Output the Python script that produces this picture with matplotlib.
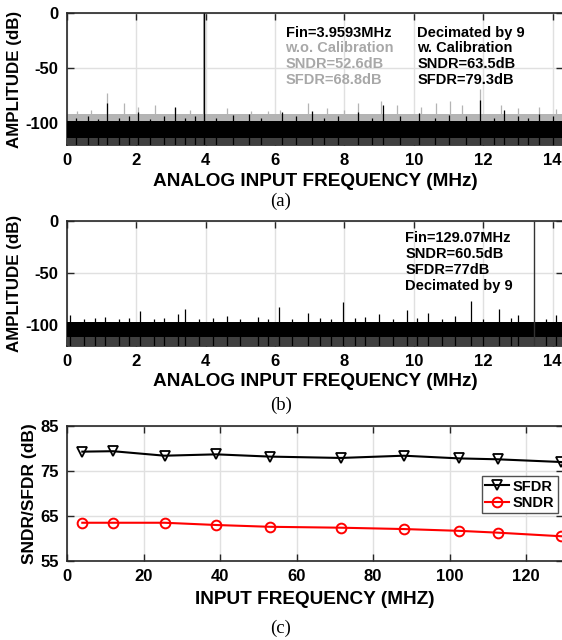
import matplotlib
matplotlib.use("Agg")
import matplotlib.pyplot as plt

plt.rcParams['font.family'] = ['Liberation Sans', 'DejaVu Sans']
plt.rcParams['font.weight'] = 'bold'
plt.rcParams['axes.unicode_minus'] = False

# ---------------- data ----------------
# panel (a): spectrum, Fin = 3.9593 MHz
fin_a = 3.9593
noise_a_cal = [-114, -98]      # black band (w. calibration): bottom, top (dB)
noise_a_nocal = [-114, -92]    # gray band (w.o. calibration)
spur_a_nocal_f = [0.3, 0.7, 1.15, 1.65, 2.05, 2.55, 3.1, 3.55, 4.6, 5.3, 5.8, 6.15, 6.95, 7.5, 8.0,
                  8.4, 9.05, 9.5, 10.2, 10.65, 11.05, 11.4, 11.9, 12.5, 13.0, 13.6, 14.1]
spur_a_nocal_db = [-89, -88, -73, -82, -85, -84, -86, -88, -86, -89, -89, -88, -82, -86, -88,
                   -82, -80, -84, -85, -82, -80, -84, -69, -84, -86, -85, -87]
spur_a_cal_f = [0.25, 0.6, 0.9, 1.15, 1.5, 1.8, 2.05, 2.4, 2.8, 3.1, 3.4, 3.7, 4.3, 4.8, 5.25,
                5.6, 6.2, 6.6, 7.05, 7.4, 7.8, 8.4, 8.8, 9.1, 9.6, 10.15, 10.6, 11.0, 11.5,
                11.9, 12.3, 12.6, 13.0, 13.3, 13.6, 14.0]
spur_a_cal_db = [-95, -94, -96, -82, -95, -94, -90, -96, -94, -85, -95, -94, -95, -93, -92,
                 -95, -90, -94, -89, -95, -94, -90, -95, -84, -94, -91, -95, -93, -94,
                 -79, -95, -88, -94, -95, -92, -94]

# panel (b): spectrum, Fin = 129.07 MHz (aliased)
fin_b = 13.47
noise_b = [-111, -97]
spur_b_f = [0.1, 0.5, 0.8, 1.1, 1.5, 1.8, 2.1, 2.5, 2.8, 3.2, 3.4, 3.8, 4.2, 4.6, 5.0, 5.5,
            5.8, 6.1, 6.5, 6.95, 7.3, 7.6, 7.95, 8.3, 8.6, 9.0, 9.4, 9.8, 10.1, 10.4, 10.8,
            11.2, 11.65, 12.0, 12.45, 12.8, 13.0, 13.8, 14.1]
spur_b_db = [-90, -94, -93, -92, -94, -93, -86, -94, -93, -89, -84, -94, -93, -91, -94, -92,
             -94, -83, -94, -88, -93, -94, -78, -93, -92, -89, -94, -85, -93, -88, -94,
             -91, -77, -94, -84, -93, -90, -94, -90]

# panel (c): SNDR / SFDR vs input frequency
fin_c = [4.0, 12.0, 25.5, 39.0, 53.0, 71.5, 88.0, 102.5, 112.5, 129.07]
sfdr = [79.3, 79.4, 78.4, 78.7, 78.2, 77.9, 78.4, 77.8, 77.6, 77.0]
sndr = [63.5, 63.5, 63.5, 63.0, 62.6, 62.4, 62.1, 61.7, 61.3, 60.5]

spec_xticks = [0, 2, 4, 6, 8, 10, 12, 14]
spec_yticks = [-100, -50, 0]
c_xticks = [0, 20, 40, 60, 80, 100, 120]
c_yticks = [55, 65, 75, 85]

# ---------------- figure ----------------
W, H = 562, 640
fig = plt.figure(figsize=(W / 100, H / 100), dpi=100)

def ax_px(left, top, right, bottom):
    return fig.add_axes([left / W, 1 - bottom / H, (right - left) / W, (bottom - top) / H])

GRID = '#e0e0e0'
SPINE = '#262626'
LAB_FS = 13.7

def style(ax):
    ax.tick_params(direction='in', top=True, right=True, length=5, width=1.0,
                   labelsize=12, colors=SPINE, pad=6)
    for s in ax.spines.values():
        s.set_linewidth(1.2)
        s.set_color(SPINE)
    ax.grid(True, color=GRID, linewidth=1.0)
    ax.set_axisbelow(True)
    for lab in ax.get_xticklabels() + ax.get_yticklabels():
        lab.set_fontweight('bold')
        lab.set_color('black')

def spectrum(ax):
    ax.set_xlim(0, 14.3)
    ax.set_ylim(-120, 0)
    ax.set_xticks(spec_xticks)
    ax.set_yticks(spec_yticks)
    ax.set_xlabel('ANALOG INPUT FREQUENCY (MHz)', fontsize=LAB_FS, fontweight='bold', labelpad=3)
    ax.set_ylabel('AMPLITUDE (dB)', fontsize=12.2, fontweight='bold', labelpad=3)
    style(ax)

# ----- (a)
axa = ax_px(67, 13, 563, 145)
axa.fill_between([0, 14.3], noise_a_nocal[0], noise_a_nocal[1], color='#b4b4b4', lw=0, zorder=2)
axa.vlines(spur_a_nocal_f, -120, spur_a_nocal_db, color='#b4b4b4', lw=0.9, zorder=2)
axa.vlines([fin_a], -120, 0, color='#b4b4b4', lw=1.4, zorder=2)
axa.fill_between([0, 14.3], noise_a_cal[0], noise_a_cal[1], color='black', lw=0, zorder=3)
axa.fill_between([0, 14.3], -120, noise_a_cal[0], color='#404040', lw=0, zorder=3)
axa.vlines(spur_a_cal_f, -120, spur_a_cal_db, color='black', lw=0.9, zorder=3)
axa.vlines([fin_a], -120, 0, color='black', lw=1.0, zorder=4)
spectrum(axa)
tkw = dict(transform=axa.transData, fontsize=10.5, fontweight='bold', va='center')
ya = [-18, -32, -46.5, -61]
axa.text(6.3, ya[0], 'Fin=3.9593MHz', color='black', **tkw)
axa.text(6.3, ya[1], 'w.o. Calibration', color='#a8a8a8', **tkw)
axa.text(6.3, ya[2], 'SNDR=52.6dB', color='#a8a8a8', **tkw)
axa.text(6.3, ya[3], 'SFDR=68.8dB', color='#a8a8a8', **tkw)
axa.text(10.1, ya[0], 'Decimated by 9', color='black', **tkw)
axa.text(10.1, ya[1], 'w. Calibration', color='black', **tkw)
axa.text(10.1, ya[2], 'SNDR=63.5dB', color='black', **tkw)
axa.text(10.1, ya[3], 'SFDR=79.3dB', color='black', **tkw)
fig.text(0.5, 1 - 201 / H, '(a)', ha='center', va='center', fontsize=13.5,
         fontweight='normal', family=['Liberation Serif'])

# ----- (b)
axb = ax_px(67, 221, 563, 346)
axb.fill_between([0, 14.3], noise_b[0], noise_b[1], color='black', lw=0, zorder=3)
axb.fill_between([0, 14.3], -120, noise_b[0], color='#404040', lw=0, zorder=3)
axb.vlines(spur_b_f, -120, spur_b_db, color='black', lw=0.9, zorder=3)
axb.vlines([fin_b], -120, 0, color='#333333', lw=1.0, zorder=4)
spectrum(axb)
tkb = dict(transform=axb.transData, fontsize=10.5, fontweight='bold', va='center', color='black')
yb = [-16.3, -31.7, -47, -62.5]
axb.text(9.75, yb[0], 'Fin=129.07MHz', **tkb)
axb.text(9.75, yb[1], 'SNDR=60.5dB', **tkb)
axb.text(9.75, yb[2], 'SFDR=77dB', **tkb)
axb.text(9.75, yb[3], 'Decimated by 9', **tkb)
fig.text(0.5, 1 - 405 / H, '(b)', ha='center', va='center', fontsize=13.5,
         fontweight='normal', family=['Liberation Serif'])

# ----- (c)
axc = ax_px(67, 426, 563, 561)
axc.plot(fin_c, sfdr, color='black', lw=1.5, marker='v', ms=7.5, mfc='none',
         mec='black', mew=1.3, label='SFDR', clip_on=False, zorder=4)
axc.plot(fin_c, sndr, color='#ff0000', lw=1.5, marker='o', ms=7, mfc='none',
         mec='#ff0000', mew=1.4, label='SNDR', clip_on=False, zorder=4)
axc.set_xlim(0, 129.6)
axc.set_ylim(55, 85)
axc.set_xticks(c_xticks)
axc.set_yticks(c_yticks)
axc.set_xlabel('INPUT FREQUENCY (MHZ)', fontsize=LAB_FS, fontweight='bold', labelpad=5)
axc.set_ylabel('SNDR/SFDR (dB)', fontsize=12.5, fontweight='bold', labelpad=2)
style(axc)
leg = axc.legend(loc='upper right', bbox_to_anchor=(0.99, 0.63), fontsize=10.5,
                 frameon=True, fancybox=False, handlelength=1.6, handletextpad=0.3,
                 borderpad=0.25, labelspacing=0.15, borderaxespad=0)
leg.get_frame().set_edgecolor(SPINE)
leg.get_frame().set_linewidth(1.0)
for t in leg.get_texts():
    t.set_fontweight('bold')
fig.text(0.5, 1 - 628 / H, '(c)', ha='center', va='center', fontsize=13.5,
         fontweight='normal', family=['Liberation Serif'])

fig.savefig('out.png', dpi=100)
